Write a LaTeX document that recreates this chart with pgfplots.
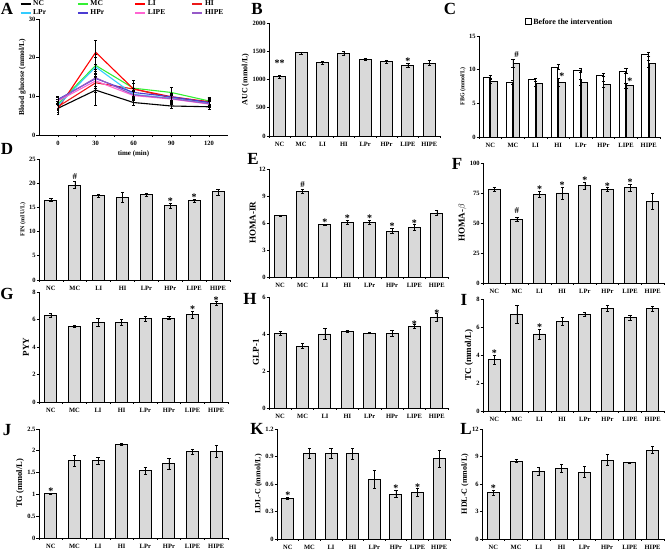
\documentclass[border=0pt]{standalone}
\usepackage{pgfplots}
\pgfplotsset{compat=1.18}
\usepackage{fontspec}
\setmainfont{Liberation Serif}
\definecolor{barg}{RGB}{217,217,217}
\definecolor{cnc}{RGB}{0,0,0}
\definecolor{cmc}{RGB}{51,240,51}
\definecolor{cli}{RGB}{255,0,0}
\definecolor{chi}{RGB}{235,25,25}
\definecolor{clpr}{RGB}{51,204,255}
\definecolor{chpr}{RGB}{75,60,210}
\definecolor{clipe}{RGB}{255,100,210}
\definecolor{chipe}{RGB}{150,90,200}
\newcommand{\tf}{\bfseries\fontsize{6.5}{7}\selectfont}
\newcommand{\lf}[1]{\bfseries\fontsize{#1}{#1}\selectfont}
\pgfplotsset{
  base/.style={scale only axis, anchor=south west, axis lines*=left,
    axis line style={-, line width=0.9pt}, tick align=outside,
    tick style={black, line width=0.7pt}, major tick length=2.5pt, minor tick length=2pt,
    ymin=0, enlargelimits=false, clip=false, ticklabel style={font=\tf},
    yticklabel style={inner sep=0.8pt},
    /pgf/number format/assume math mode=true, /pgf/number format/1000 sep={},
    label style={font=\lf{8}}, ylabel style={yshift=-1pt}},
  barpanel/.style={base, xmin=-0.5, xmax=7.5, xtick={0,...,7},
    xticklabels={NC,MC,LI,HI,LPr,HPr,LIPE,HIPE},
    major x tick style={draw=none}, minor xtick={-0.5,0.5,...,7.5}},
  mybar/.style={ybar, bar width=12pt, fill=barg, draw=black, line width=0.9pt,
    error bars/y dir=both, error bars/y explicit,
    error bars/error bar style={line width=0.6pt, black},
    error bars/error mark options={rotate=90, mark size=1.6pt, line width=0.6pt, black}},
  star/.style={draw=none, mark=none, nodes near coords, point meta=explicit symbolic,
    nodes near coords style={anchor=base, inner sep=0pt, yshift=-1.5pt, font=\lf{10}}},
  hash/.style={draw=none, mark=none, nodes near coords, point meta=explicit symbolic,
    nodes near coords style={anchor=base, inner sep=0pt, yshift=2pt, font=\lf{9}}},
  gl/.style={color=#1, line width=1.1pt, mark=none,
    error bars/y dir=both, error bars/y explicit,
    error bars/error bar style={black, line width=0.5pt},
    error bars/error mark options={rotate=90, mark size=1.4pt, black, line width=0.5pt}},
}
\begin{document}
\begin{tikzpicture}
\useasboundingbox (0,0) rectangle (666pt,553pt);
% panel letters
\node[font=\lf{17}] at (7pt,544pt) {A};
\node[font=\lf{17}] at (257pt,544pt) {B};
\node[font=\lf{17}] at (450pt,544pt) {C};
\node[font=\lf{17}] at (7pt,404pt) {D};
\node[font=\lf{17}] at (253pt,394pt) {E};
\node[font=\lf{17}] at (457pt,389pt) {F};
\node[font=\lf{17}] at (7pt,259pt) {G};
\node[font=\lf{17}] at (250pt,254pt) {H};
\node[font=\lf{17}] at (464pt,253pt) {I};
\node[font=\lf{17}] at (7pt,123pt) {J};
\node[font=\lf{17}] at (257pt,124pt) {K};
\node[font=\lf{17}] at (466pt,124pt) {L};

% ---------- A ----------
\begin{axis}[base, at={(39pt,418pt)}, width=189pt, height=116pt,
  xmin=-15, xmax=135, ymax=30, xtick={0,30,60,90,120}, ytick={0,10,20,30},
  minor x tick num=1, xlabel={time (min)}, ylabel={Blood glucose (mmol/L)},
  ylabel style={font=\lf{7.5}}, xlabel style={font=\lf{7}, yshift=2pt},
  legend columns=4,
  legend style={at={(0.5,1)}, anchor=south, yshift=0.5pt, draw=none, fill=none,
    font=\lf{7.5}, inner sep=0pt, row sep=-1.5pt,
    /tikz/every even column/.append style={column sep=2pt}},
  legend image code/.code={\draw[#1, line width=1.3pt] (0pt,0pt) -- (10pt,0pt);}]
\addplot[gl=cnc] coordinates {(0,6.9)+-(0,1.0) (30,11.6)+-(0,4.0) (60,8.4)+-(0,0.6) (90,7.5)+-(0,0.5) (120,7.3)+-(0,0.6)};
\addlegendentry{\makebox[40pt][l]{NC}}
\addplot[gl=cmc] coordinates {(0,8.0)+-(0,1.2) (30,18.0)+-(0,3.0) (60,12.1)+-(0,2.0) (90,11.0)+-(0,1.3) (120,8.8)+-(0,1.0)};
\addlegendentry{\makebox[40pt][l]{MC}}
\addplot[gl=cli] coordinates {(0,6.8)+-(0,1.5) (30,21.4)+-(0,3.0) (60,11.9)+-(0,2.3) (90,9.9)+-(0,1.0) (120,8.6)+-(0,1.2)};
\addlegendentry{\makebox[40pt][l]{LI}}
\addplot[gl=chi] coordinates {(0,7.3)+-(0,1.0) (30,13.5)+-(0,2.5) (60,11.9)+-(0,1.5) (90,9.6)+-(0,1.0) (120,8.5)+-(0,1.0)};
\addlegendentry{\makebox[40pt][l]{HI}}
\addplot[gl=clpr] coordinates {(0,7.6)+-(0,1.0) (30,17.6)+-(0,2.5) (60,10.5)+-(0,1.5) (90,9.5)+-(0,1.0) (120,8.2)+-(0,0.8)};
\addlegendentry{\makebox[40pt][l]{LPr}}
\addplot[gl=chpr] coordinates {(0,9.2)+-(0,0.8) (30,14.6)+-(0,2.0) (60,11.0)+-(0,1.2) (90,9.9)+-(0,1.0) (120,8.4)+-(0,0.8)};
\addlegendentry{\makebox[40pt][l]{HPr}}
\addplot[gl=clipe] coordinates {(0,8.8)+-(0,1.0) (30,14.0)+-(0,2.0) (60,10.2)+-(0,1.2) (90,9.3)+-(0,1.0) (120,8.0)+-(0,0.8)};
\addlegendentry{\makebox[40pt][l]{LIPE}}
\addplot[gl=chipe] coordinates {(0,9.0)+-(0,1.0) (30,14.8)+-(0,2.2) (60,10.4)+-(0,1.2) (90,9.4)+-(0,1.0) (120,8.1)+-(0,0.8)};
\addlegendentry{\makebox[40pt][l]{HIPE}}
\end{axis}

% ---------- B ----------
\begin{axis}[barpanel, at={(269pt,417pt)}, width=171pt, height=113pt,
  ymax=2000, ytick={0,500,1000,1500,2000}, ylabel={AUC (mmol/L)}]
\addplot[mybar] table[x=x, y=y, y error=e] {
x y e
0 1045 25
1 1470 20
2 1295 20
3 1465 40
4 1355 20
5 1320 25
6 1255 35
7 1290 45
};
\addplot[star] coordinates {(0,1260) [**] (6,1290) [*]};
\end{axis}

% ---------- C ----------
\begin{axis}[barpanel, at={(479pt,416pt)}, width=181pt, height=101pt,
  ymax=15, ytick={0,5,10,15}, ylabel={FBG (mmol/L)}, ylabel style={font=\lf{6}},
  legend style={at={(0.5,1)}, anchor=south, yshift=6pt, draw=none, fill=none, font=\lf{8}},
  legend image code/.code={\draw[fill=white, draw=black, line width=0.7pt] (0pt,-2pt) rectangle (6pt,4pt);}]
\addplot[mybar, fill=white, bar width=6.5pt, bar shift=-3.7pt] table[x=x, y=y, y error=e] {
x y e
0 8.8 0.3
1 8.1 0.3
2 8.5 0.2
3 10.4 0.4
4 9.9 0.3
5 9.2 0.2
6 9.8 0.4
7 12.3 0.3
};
\addlegendentry{Before the intervention}
\addplot[mybar, bar width=6.5pt, bar shift=3.7pt, forget plot] table[x=x, y=y, y error=e] {
x y e
0 8.3 0.4
1 10.9 0.6
2 7.9 0.3
3 8.1 0.6
4 8.1 0.4
5 7.8 0.4
6 7.6 0.4
7 10.9 0.5
};
\addplot[hash, forget plot] coordinates {(1.164,11.5) [\#]};
\addplot[star, forget plot] coordinates {(3.164,8.7) [*] (6.164,8.0) [*]};
\end{axis}

% ---------- D ----------
\begin{axis}[barpanel, at={(39pt,273pt)}, width=191pt, height=121pt,
  ymax=25, ytick={0,5,10,15,20,25}, ylabel={FIN (mIU/L)}, ylabel style={font=\lf{6}}]
\addplot[mybar] table[x=x, y=y, y error=e] {
x y e
0 16.5 0.3
1 19.6 0.7
2 17.4 0.4
3 17.1 1.1
4 17.6 0.4
5 15.4 0.5
6 16.4 0.3
7 18.2 0.6
};
\addplot[hash] coordinates {(1,20.3) [\#]};
\addplot[star] coordinates {(5,15.9) [*] (6,16.7) [*]};
\end{axis}

% ---------- E ----------
\begin{axis}[barpanel, at={(269pt,276pt)}, width=179pt, height=108pt,
  ymax=12, ytick={0,3,6,9,12}, ylabel={HOMA-IR}, ylabel style={font=\lf{9}}]
\addplot[mybar] table[x=x, y=y, y error=e] {
x y e
0 6.8 0.1
1 9.5 0.2
2 5.8 0.1
3 6.1 0.2
4 6.1 0.2
5 5.1 0.3
6 5.5 0.3
7 7.1 0.3
};
\addplot[hash] coordinates {(1,9.7) [\#]};
\addplot[star] coordinates {(2,5.9) [*] (3,6.3) [*] (4,6.3) [*] (5,5.4) [*] (6,5.8) [*]};
\end{axis}

% ---------- F ----------
\begin{axis}[barpanel, at={(483pt,270pt)}, width=181pt, height=120pt,
  ymax=100, ytick={0,25,50,75,100}, ylabel={HOMA-$\beta$}, ylabel style={font=\lf{9}}]
\addplot[mybar] table[x=x, y=y, y error=e] {
x y e
0 78 1.5
1 53 1.5
2 74 2.5
3 75 5
4 81 3
5 78 1.5
6 79.5 3
7 68 6.5
};
\addplot[hash] coordinates {(1,56) [\#]};
\addplot[star] coordinates {(2,76.5) [*] (3,80) [*] (4,84) [*] (5,79.5) [*] (6,82.5) [*]};
\end{axis}

% ---------- G ----------
\begin{axis}[barpanel, at={(39pt,151pt)}, width=189pt, height=110pt,
  ymax=8, ytick={0,2,4,6,8}, ylabel={PYY}, ylabel style={font=\lf{9}}]
\addplot[mybar] table[x=x, y=y, y error=e] {
x y e
0 6.3 0.15
1 5.5 0.1
2 5.8 0.3
3 5.8 0.2
4 6.05 0.2
5 6.1 0.1
6 6.35 0.25
7 7.15 0.15
};
\addplot[star] coordinates {(6,6.6) [*] (7,7.3) [*]};
\end{axis}

% ---------- H ----------
\begin{axis}[barpanel, at={(269pt,145pt)}, width=179pt, height=111pt,
  ymax=6, ytick={0,2,4,6}, ylabel={GLP-1}, ylabel style={font=\lf{9}}]
\addplot[mybar] table[x=x, y=y, y error=e] {
x y e
0 4.05 0.1
1 3.35 0.15
2 4.0 0.3
3 4.15 0.05
4 4.05 0.03
5 4.05 0.15
6 4.4 0.1
7 4.9 0.2
};
\addplot[star] coordinates {(6,4.45) [*] (7,5.05) [*]};
\end{axis}

% ---------- I ----------
\begin{axis}[barpanel, at={(483pt,142pt)}, width=181pt, height=112pt,
  ymax=8, ytick={0,2,4,6,8}, ylabel={TC (mmol/L)}, ylabel style={font=\lf{9}}]
\addplot[mybar] table[x=x, y=y, y error=e] {
x y e
0 3.65 0.35
1 6.9 0.65
2 5.5 0.35
3 6.4 0.3
4 6.9 0.15
5 7.35 0.2
6 6.65 0.2
7 7.3 0.2
};
\addplot[star] coordinates {(0,4.0) [*] (2,5.85) [*]};
\end{axis}

% ---------- J ----------
\begin{axis}[barpanel, at={(39pt,15pt)}, width=189pt, height=109pt,
  ymax=2.5, ytick={0,0.5,1,1.5,2,2.5}, ylabel={TG (mmol/L)}, ylabel style={font=\lf{8.5}}]
\addplot[mybar] table[x=x, y=y, y error=e] {
x y e
0 1.02 0.01
1 1.77 0.12
2 1.77 0.08
3 2.15 0.02
4 1.54 0.08
5 1.70 0.12
6 1.98 0.06
7 1.98 0.14
};
\addplot[star] coordinates {(0,1.04) [*]};
\end{axis}

% ---------- K ----------
\begin{axis}[barpanel, at={(277pt,14pt)}, width=173pt, height=110pt,
  ymax=1.2, ytick={0,0.3,0.6,0.9,1.2}, ylabel={LDL-C (mmol/L)}, ylabel style={font=\lf{8}}]
\addplot[mybar] table[x=x, y=y, y error=e] {
x y e
0 0.44 0.01
1 0.935 0.05
2 0.935 0.05
3 0.93 0.06
4 0.65 0.1
5 0.49 0.04
6 0.51 0.04
7 0.875 0.09
};
\addplot[star] coordinates {(0,0.46) [*] (5,0.53) [*] (6,0.55) [*]};
\end{axis}

% ---------- L ----------
\begin{axis}[barpanel, at={(482pt,14pt)}, width=182pt, height=110pt,
  ymax=12, ytick={0,3,6,9,12}, ylabel={HDL-C (mmol/L)}, ylabel style={font=\lf{8}}]
\addplot[mybar] table[x=x, y=y, y error=e] {
x y e
0 5.05 0.3
1 8.5 0.15
2 7.4 0.4
3 7.7 0.4
4 7.3 0.6
5 8.6 0.6
6 8.3 0.05
7 9.7 0.4
};
\addplot[star] coordinates {(0,5.35) [*]};
\end{axis}
\end{tikzpicture}
\end{document}
